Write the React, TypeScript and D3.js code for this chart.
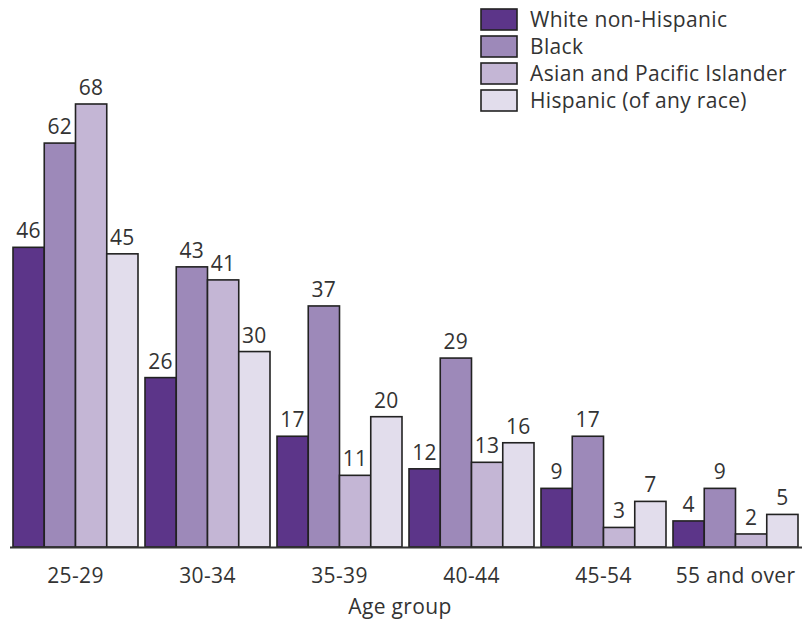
import React from "react";
import * as d3 from "d3";

const categories = ["25-29", "30-34", "35-39", "40-44", "45-54", "55 and over"];
const seriesNames = ["White non-Hispanic", "Black", "Asian and Pacific Islander", "Hispanic (of any race)"];
const whiteValues = [46, 26, 17, 12, 9, 4];
const blackValues = [62, 43, 37, 29, 17, 9];
const asianValues = [68, 41, 11, 13, 3, 2];
const hispanicValues = [45, 30, 20, 16, 7, 5];
const colors = ["#5c3589", "#9d89b9", "#c4b6d5", "#e2ddec"];

const W = 807, H = 623;
const baseY = 547;
const FONT = "'Open Sans', sans-serif";
const FS = 21;
const LS = 0.35;

export default function App() {
  const series = [whiteValues, blackValues, asianValues, hispanicValues];
  const x0 = d3.scaleBand<string>().domain(categories).range([13, 798]).paddingInner(7 / 132).paddingOuter(0);
  const x1 = d3.scaleBand<number>().domain([0, 1, 2, 3]).range([0, x0.bandwidth()]);
  const y = d3.scaleLinear().domain([0, 68]).range([baseY, 104]);
  return (
    <svg width={W} height={H} style={{ position: "absolute", left: 0, top: 0 }}>
      <rect width={W} height={H} fill="#fff" />
      {categories.map((c, ci) => (
        <g key={c} transform={`translate(${x0(c)},0)`}>
          {series.map((vals, si) => {
            const v = vals[ci];
            const bx = x1(si)!;
            return (
              <g key={si}>
                <rect x={bx} y={y(v)} width={x1.bandwidth()} height={baseY - y(v)} fill={colors[si]} stroke="#222" strokeWidth={1.6} />
                <text x={bx + x1.bandwidth() / 2} y={y(v) - 9} textAnchor="middle" fontFamily={FONT} fontSize={FS} letterSpacing={LS} fill="#333">{v}</text>
              </g>
            );
          })}
          <text x={x0.bandwidth() / 2} y={583} textAnchor="middle" fontFamily={FONT} fontSize={FS} letterSpacing={LS} fill="#333">{c}</text>
        </g>
      ))}
      <line x1={10} x2={802} y1={baseY + 0.5} y2={baseY + 0.5} stroke="#333" strokeWidth={2} />
      <text x={400} y={614} textAnchor="middle" fontFamily={FONT} fontSize={FS} letterSpacing={LS} fill="#333">Age group</text>
      {seriesNames.map((n, i) => (
        <g key={n} transform={`translate(481,${9 + i * 27})`}>
          <rect x={0} y={0} width={36} height={21} fill={colors[i]} stroke="#222" strokeWidth={1.6} />
          <text x={49} y={18} fontFamily={FONT} fontSize={FS} letterSpacing={LS} fill="#333">{n}</text>
        </g>
      ))}
    </svg>
  );
}
